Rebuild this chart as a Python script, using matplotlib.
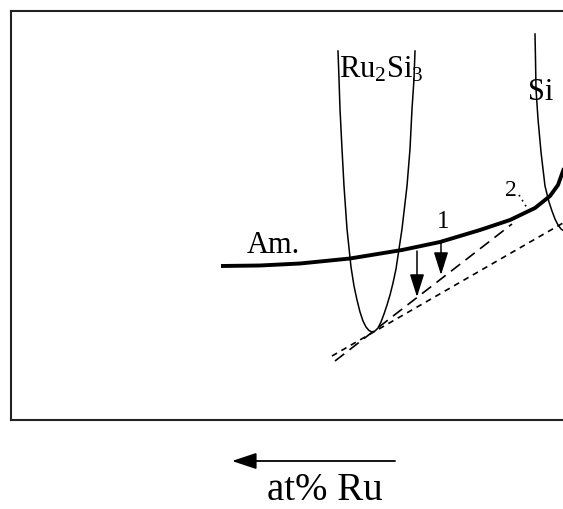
import matplotlib
matplotlib.use("Agg")
import matplotlib.pyplot as plt
from matplotlib.patches import FancyArrowPatch

plt.rcParams['font.family'] = ['Liberation Serif', 'DejaVu Serif']
plt.rcParams['mathtext.fontset'] = 'custom'
plt.rcParams['mathtext.rm'] = 'Liberation Serif'
plt.rcParams['mathtext.it'] = 'Liberation Serif:italic'

# ---- data (composition units vs free energy; y grows downward) ----
am_x = [221, 260, 300, 350, 402, 440, 480, 510, 535, 550, 558, 563, 568]
am_g = [267, 266.5, 264.5, 259.5, 251, 243, 231, 221, 209, 197, 186, 172, 158]

ru_x = [338, 339, 340, 342, 344, 347, 351, 354, 357, 360, 363, 366, 369, 372, 375, 378, 381, 384, 387, 390, 393, 396, 402, 407, 410, 412, 414, 415]
ru_g = [52, 80, 110, 150, 187, 230, 268, 287, 301, 313, 322, 328, 331.5, 333, 332, 329, 323, 315, 306, 296, 284, 270, 230, 187, 150, 110, 80, 52]

si_x = [535, 535.5, 536, 538, 541, 545, 549, 552, 555, 558, 561, 564, 568]
si_g = [35, 60, 90, 120, 153, 187, 203, 212, 220, 226, 230, 232, 233]

tan1_x = [335, 512]          # long-dash tangent (Am. / Ru2Si3)
tan1_g = [362, 225]
tan2_x = [332, 570]          # short-dash tangent (Ru2Si3 / Si)
tan2_g = [357, 220]
dot_x = [519, 529]
dot_g = [196, 212]

arr1_x, arr1_g = 441, (243, 276)
arr2_x, arr2_g = 417, (252, 298)

fig = plt.figure(figsize=(5.63, 5.10), dpi=100)
W, H = 563, 510
ax = fig.add_axes([10.5 / W, (H - 421) / H, 609.5 / W, 409 / H])
ax.set_xlim(10.5, 620)
ax.set_ylim(421, 12)
ax.set_xticks([])
ax.set_yticks([])
for s in ax.spines.values():
    s.set_linewidth(1.5)
    s.set_color('#222222')

ax.plot(am_x, am_g, color='black', lw=2.8, solid_capstyle='butt')
ax.plot(ru_x, ru_g, color='black', lw=1.1)
ax.plot(si_x, si_g, color='black', lw=1.1)
ax.plot(tan1_x, tan1_g, color='black', lw=1.2, dashes=(7, 4))
ax.plot(tan2_x, tan2_g, color='black', lw=1.2, dashes=(3.5, 3))
ax.plot(dot_x, dot_g, color='black', lw=1.2, dashes=(1, 2.5))

for x, (g0, g1) in [(arr1_x, arr1_g), (arr2_x, arr2_g)]:
    ax.add_patch(FancyArrowPatch((x, g0), (x, g1),
                                 arrowstyle='-|>,head_length=0.7,head_width=0.22',
                                 mutation_scale=20, color='black', lw=1.1,
                                 shrinkA=0, shrinkB=0))

ax.text(339, 77, r'Ru$_\mathregular{2}$Si$_\mathregular{3}$', fontsize=22, ha='left', va='baseline')
ax.text(528, 100, 'Si', fontsize=22, ha='left', va='baseline')
ax.text(247, 253, 'Am.', fontsize=22, ha='left', va='baseline')
ax.text(443, 228, '1', fontsize=18, ha='center', va='baseline')
ax.text(505, 196, '2', fontsize=17, ha='left', va='baseline')

# composition direction arrow below the frame
fig.patches.append(FancyArrowPatch((395 / W, (H - 462) / H), (232 / W, (H - 462) / H),
                                   transform=fig.transFigure,
                                   arrowstyle='-|>,head_length=0.75,head_width=0.25',
                                   mutation_scale=20, color='black', lw=1.3,
                                   shrinkA=0, shrinkB=0))
fig.text(325 / W, (H - 500) / H, 'at% Ru', fontsize=28, ha='center', va='baseline')

fig.savefig('out.png', dpi=100)
